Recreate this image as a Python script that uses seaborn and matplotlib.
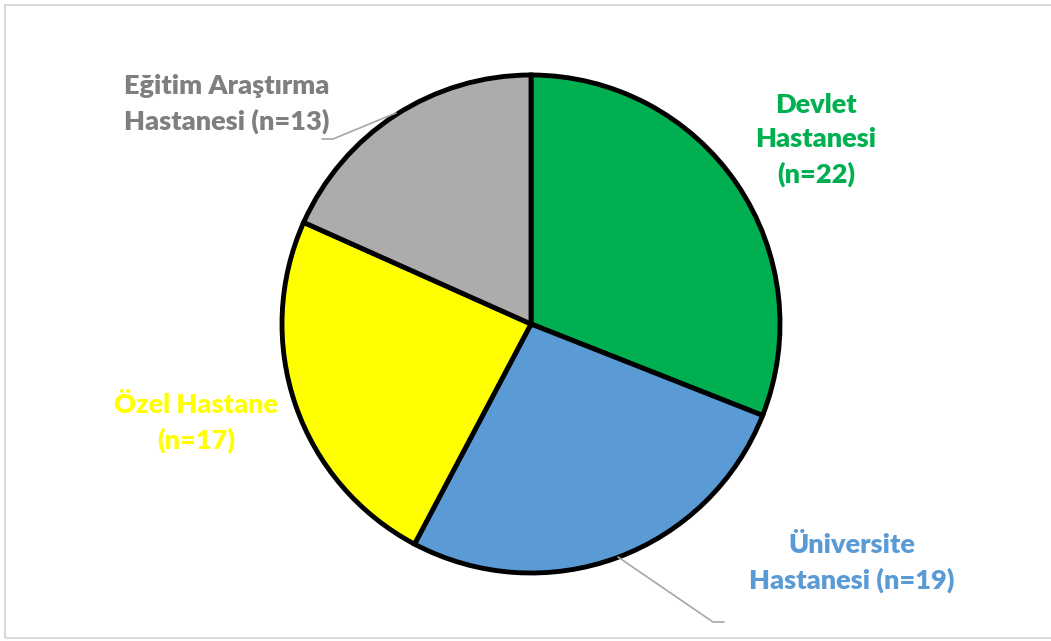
import matplotlib.pyplot as plt
import seaborn as sns
from matplotlib.patches import Rectangle

sns.set_theme(style="white")
plt.rcParams["font.family"] = ["Lato", "DejaVu Sans"]

# data
categories = ["Devlet Hastanesi", "Üniversite Hastanesi", "Özel Hastane", "Eğitim Araştırma Hastanesi"]
counts = [22, 19, 17, 13]
labels = ["Devlet\nHastanesi\n(n=22)", "Üniversite\nHastanesi (n=19)", "Özel Hastane\n(n=17)",
          "Eğitim Araştırma\nHastanesi (n=13)"]
slice_colors = ["#00B050", "#5B9BD5", "#FFFF00", "#AEABAB"]
label_colors = ["#00B050", "#5B9BD5", "#FFFF00", "#7F7F7F"]

W, H = 1051, 641
fig = plt.figure(figsize=(W / 100, H / 100), dpi=100)
ax = fig.add_axes([0, 0, 1, 1])

cx, cy, r = 531, H - 324, 249
ax.pie(counts, colors=slice_colors, startangle=90, counterclock=False,
       center=(cx, cy), radius=r, frame=True,
       wedgeprops=dict(edgecolor="black", linewidth=3.5))

ax.set_xlim(0, W)
ax.set_ylim(0, H)
ax.set_aspect("equal")
ax.axis("off")

# label positions in pixel coords (y from top)
label_pos = [(816, 140), (852, 563), (196, 423), (227, 104)]
for txt, col, (x, y) in zip(labels, label_colors, label_pos):
    ax.text(x, H - y, txt, color=col, fontsize=19.5, fontweight="heavy",
            ha="center", va="center", linespacing=1.52)

# leader lines
ax.plot([322, 333, 396], [H - 139, H - 139, H - 113], color="#A6A6A6", lw=1.2)
ax.plot([618, 713, 724], [H - 557, H - 622, H - 622], color="#A6A6A6", lw=1.2)

# chart area border
ax.add_patch(Rectangle((5, 3), 1100, H - 8, fill=False, edgecolor="#D9D9D9", lw=1.5, clip_on=False))

fig.savefig("out.png", dpi=100)
